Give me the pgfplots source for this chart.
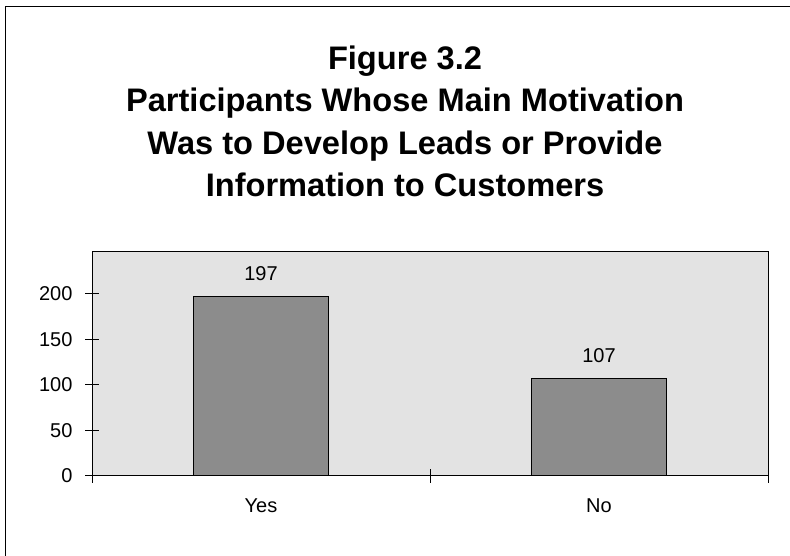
\documentclass[border=0pt]{standalone}
\usepackage{fontspec}
\setmainfont{Liberation Sans}
\usepackage{pgfplots}
\pgfplotsset{compat=1.18}
\definecolor{plotbg}{HTML}{E3E3E3}
\definecolor{barfill}{HTML}{8C8C8C}
\begin{document}
\begin{tikzpicture}[x=1bp,y=1bp]
\useasboundingbox (0,0) rectangle (790,556);
\draw[line width=1bp] (5,-5) -- (5,549) -- (800,549);
\begin{scope}[every node/.style={anchor=base,font=\fontsize{32.6bp}{38bp}\selectfont\bfseries,inner sep=0pt}]
\node at (405,486.5) {Figure 3.2};
\node at (405,444) {Participants Whose Main Motivation};
\node at (405,401.5) {Was to Develop Leads or Provide};
\node at (405,359.5) {Information to Customers};
\end{scope}
\begin{axis}[
  at={(92bp,80bp)}, anchor=south west,
  width=676bp, height=224bp, scale only axis,
  xmin=-0.5, xmax=1.5, ymin=0, ymax=246,
  enlargelimits=false,
  axis background/.style={fill=plotbg},
  axis line style={black, line width=1bp},
  ybar, bar width=0.402,
  ytick={0,50,100,150,200},
  ytick style={black, line width=1bp},
  major tick length=14bp, tick align=center,
  xtick pos=bottom, ytick pos=left,
  xtick={-0.5,0.5,1.5}, xticklabels={},
  xtick style={black, line width=1bp},
  extra x ticks={0,1}, extra x tick labels={Yes,No},
  extra x tick style={major tick length=0pt},
  tick label style={font=\fontsize{20bp}{24bp}\selectfont},
  /pgf/number format/assume math mode=true,
  yticklabel style={xshift=-9bp},
  xticklabel style={anchor=base, yshift=-37bp},
  nodes near coords,
  nodes near coords style={anchor=base, yshift=16.5bp, font=\fontsize{20bp}{24bp}\selectfont, black},
]
\addplot[fill=barfill, draw=black, line width=1bp] coordinates {(0,197) (1,107)};
\end{axis}
\end{tikzpicture}
\end{document}
